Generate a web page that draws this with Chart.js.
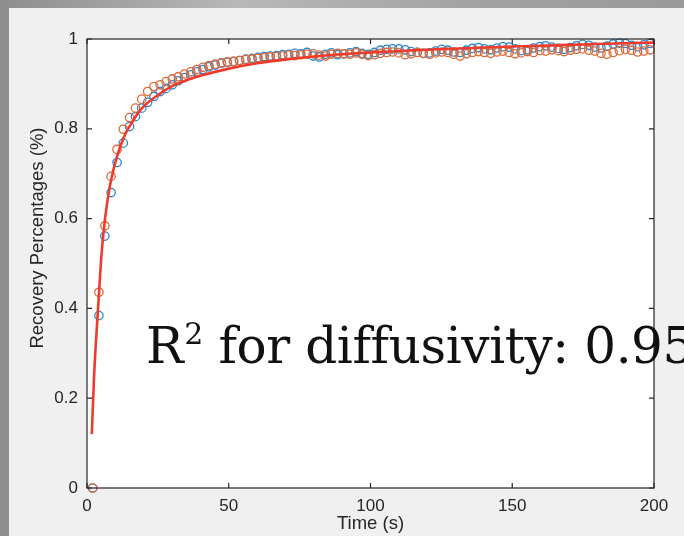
<!DOCTYPE html>
<html>
<head>
<meta charset="utf-8">
<script src="https://cdn.jsdelivr.net/npm/chart.js@4.4.1/dist/chart.umd.min.js"></script>
<style>
  html, body { margin: 0; padding: 0; }
  body {
    width: 684px; height: 536px; overflow: hidden; position: relative;
    background: linear-gradient(90deg, #8e8e8e, #b8b8b8 35%, #a2a2a2 70%, #9a9a9a);
  }
  #panel { position: absolute; left: 9px; top: 8px; right: 0; bottom: 0; background: #f0f0f0; }
  #wrap { position: absolute; left: 0; top: 0; width: 684px; height: 536px; }
  #r2 {
    position: absolute; left: 146px; top: 320px;
    font-family: 'DejaVu Serif', serif; font-size: 50px; line-height: 52px;
    letter-spacing: -0.4px;
    color: #111; white-space: nowrap;
  }
  #r2 .sup { font-size: 30px; position: relative; top: -19px; margin-left: 1px; }
</style>
</head>
<body>
<div id="panel"></div>
<div id="wrap"><canvas id="fitChart" width="684" height="536"></canvas></div>
<div id="r2">R<span class="sup">2</span> for diffusivity: 0.95</div>
<script>
// sampling times (s)
const times = [
  2.0, 4.2, 6.3, 8.5, 10.6, 12.8, 15.0, 17.1, 19.3, 21.4,
  23.6, 25.8, 27.9, 30.1, 32.2, 34.4, 36.6, 38.7, 40.9, 43.0,
  45.2, 47.4, 49.5, 51.7, 53.8, 56.0, 58.2, 60.3, 62.5, 64.6,
  66.8, 69.0, 71.1, 73.3, 75.4, 77.6, 79.8, 81.9, 84.1, 86.2,
  88.4, 90.6, 92.7, 94.9, 97.0, 99.2, 101.4, 103.5, 105.7, 107.8,
  110.0, 112.2, 114.3, 116.5, 118.6, 120.8, 123.0, 125.1, 127.3, 129.4,
  131.6, 133.8, 135.9, 138.1, 140.2, 142.4, 144.6, 146.7, 148.9, 151.0,
  153.2, 155.4, 157.5, 159.7, 161.8, 164.0, 166.2, 168.3, 170.5, 172.6,
  174.8, 177.0, 179.1, 181.3, 183.4, 185.6, 187.8, 189.9, 192.1, 194.2,
  196.4, 198.6
];
const blueRecovery = [
  0, 0.384, 0.561, 0.658, 0.725, 0.768, 0.805, 0.827, 0.846, 0.859,
  0.872, 0.883, 0.890, 0.898, 0.907, 0.914, 0.920, 0.927, 0.932, 0.938,
  0.942, 0.946, 0.948, 0.950, 0.952, 0.955, 0.957, 0.959, 0.961, 0.962,
  0.963, 0.965, 0.966, 0.968, 0.967, 0.970, 0.962, 0.960, 0.966, 0.969,
  0.965, 0.967, 0.969, 0.972, 0.968, 0.966, 0.970, 0.975, 0.977, 0.978,
  0.978, 0.976, 0.972, 0.970, 0.968, 0.969, 0.973, 0.977, 0.975, 0.971,
  0.970, 0.975, 0.979, 0.981, 0.978, 0.976, 0.980, 0.983, 0.982, 0.978,
  0.974, 0.976, 0.980, 0.983, 0.985, 0.982, 0.979, 0.977, 0.981, 0.985,
  0.988, 0.986, 0.982, 0.980, 0.984, 0.989, 0.991, 0.990, 0.986, 0.983,
  0.987, 0.990
];
const orangeRecovery = [
  0, 0.436, 0.584, 0.694, 0.754, 0.799, 0.825, 0.846, 0.866, 0.883,
  0.894, 0.898, 0.905, 0.911, 0.916, 0.922, 0.927, 0.932, 0.937, 0.941,
  0.944, 0.947, 0.949, 0.950, 0.952, 0.954, 0.955, 0.957, 0.958, 0.960,
  0.961, 0.962, 0.964, 0.963, 0.965, 0.966, 0.967, 0.964, 0.962, 0.966,
  0.968, 0.967, 0.966, 0.969, 0.966, 0.963, 0.965, 0.968, 0.970, 0.971,
  0.969, 0.965, 0.967, 0.970, 0.968, 0.966, 0.969, 0.971, 0.970, 0.966,
  0.962, 0.967, 0.970, 0.972, 0.970, 0.968, 0.971, 0.973, 0.970, 0.967,
  0.969, 0.972, 0.970, 0.974, 0.973, 0.976, 0.974, 0.972, 0.975, 0.977,
  0.978, 0.975, 0.973, 0.968, 0.966, 0.970, 0.974, 0.977, 0.975, 0.971,
  0.973, 0.976
];
// fitted curve
const fitTimes = [1.7, 2.5, 3, 4, 5, 6, 7, 8, 9, 10, 12, 14, 16, 18, 20, 25, 30, 35, 40, 50, 60, 70, 80, 100, 120, 140, 160, 180, 200];
const fitRecovery = [0.12, 0.25, 0.31, 0.41, 0.51, 0.58, 0.63, 0.67, 0.70, 0.725, 0.765, 0.795, 0.815, 0.835, 0.85, 0.875, 0.895, 0.908, 0.918, 0.934, 0.946, 0.954, 0.961, 0.970, 0.976, 0.981, 0.985, 0.989, 0.992];

const xTicks = [0, 50, 100, 150, 200];
const yTicks = [0, 0.2, 0.4, 0.6, 0.8, 1];

const axisColor = '#262626';
const tickFont = { family: "'Liberation Sans', Arial, Helvetica, sans-serif", size: 17 };
const titleFont = { family: "'Liberation Sans', Arial, Helvetica, sans-serif", size: 18.5 };

function toPoints(xs, ys) {
    return xs.map((x, i) => ({ x: x, y: ys[i] }));
}

// MATLAB-like box with inward ticks, white plot area, rotated y label
const matlabBox = {
    id: 'matlabBox',
    beforeDraw(chart) {
        const a = chart.chartArea;
        const ctx = chart.ctx;
        ctx.save();
        ctx.fillStyle = '#ffffff';
        ctx.fillRect(a.left, a.top, a.right - a.left, a.bottom - a.top);
        ctx.restore();
    },
    afterDraw(chart) {
        const a = chart.chartArea;
        const ctx = chart.ctx;
        const xs = chart.scales.x, ys = chart.scales.y;
        const tl = 5;
        ctx.save();
        ctx.strokeStyle = axisColor;
        ctx.lineWidth = 1.2;
        ctx.strokeRect(a.left, a.top, a.right - a.left, a.bottom - a.top);
        ctx.beginPath();
        xTicks.forEach(v => {
            const px = xs.getPixelForValue(v);
            ctx.moveTo(px, a.bottom); ctx.lineTo(px, a.bottom - tl);
            ctx.moveTo(px, a.top); ctx.lineTo(px, a.top + tl);
        });
        yTicks.forEach(v => {
            const py = ys.getPixelForValue(v);
            ctx.moveTo(a.left, py); ctx.lineTo(a.left + tl, py);
            ctx.moveTo(a.right, py); ctx.lineTo(a.right - tl, py);
        });
        ctx.stroke();

        // y axis title
        ctx.translate(38, 238);
        ctx.rotate(-Math.PI / 2);
        ctx.fillStyle = axisColor;
        ctx.font = titleFont.size + 'px ' + titleFont.family;
        ctx.textAlign = 'center';
        ctx.textBaseline = 'middle';
        ctx.fillText('Recovery Percentages (%)', 0, 0);
        ctx.restore();
    }
};

const ctx = document.getElementById('fitChart').getContext('2d');
new Chart(ctx, {
    type: 'scatter',
    data: {
        datasets: [
            {
                label: 'fit',
                data: toPoints(fitTimes, fitRecovery),
                showLine: true,
                borderColor: '#f03a2a',
                borderWidth: 2.6,
                pointRadius: 0,
                cubicInterpolationMode: 'monotone',
                fill: false
            },
            {
                label: 'series 2',
                data: toPoints(times, orangeRecovery),
                pointStyle: 'circle',
                pointRadius: 4.2,
                pointBorderWidth: 1.3,
                borderColor: '#dd6a3a',
                backgroundColor: 'rgba(0,0,0,0)',
                clip: false
            },
            {
                label: 'series 1',
                data: toPoints(times, blueRecovery),
                pointStyle: 'circle',
                pointRadius: 4.2,
                pointBorderWidth: 1.3,
                borderColor: '#2f86cc',
                backgroundColor: 'rgba(0,0,0,0)',
                clip: false
            }
        ]
    },
    options: {
        responsive: false,
        animation: false,
        events: [],
        layout: { padding: { top: 39, right: 30, left: 0, bottom: 0 } },
        plugins: {
            legend: { display: false },
            tooltip: { enabled: false }
        },
        scales: {
            x: {
                type: 'linear',
                min: 0,
                max: 200,
                grid: { display: false, drawTicks: false },
                border: { display: false },
                afterBuildTicks: s => { s.ticks = xTicks.map(v => ({ value: v })); },
                afterFit: s => { s.height = 48; },
                ticks: {
                    font: tickFont,
                    color: axisColor,
                    padding: 8,
                    maxRotation: 0,
                    callback: v => String(v)
                },
                title: {
                    display: true,
                    text: 'Time (s)',
                    font: titleFont,
                    color: axisColor,
                    padding: { top: 0, bottom: 1 }
                }
            },
            y: {
                type: 'linear',
                min: 0,
                max: 1,
                grid: { display: false, drawTicks: false },
                border: { display: false },
                afterBuildTicks: s => { s.ticks = yTicks.map(v => ({ value: v })); },
                afterFit: s => { s.width = 87; },
                ticks: {
                    font: tickFont,
                    color: axisColor,
                    padding: 9,
                    callback: v => String(v)
                }
            }
        }
    },
    plugins: [matlabBox]
});
</script>
</body>
</html>
